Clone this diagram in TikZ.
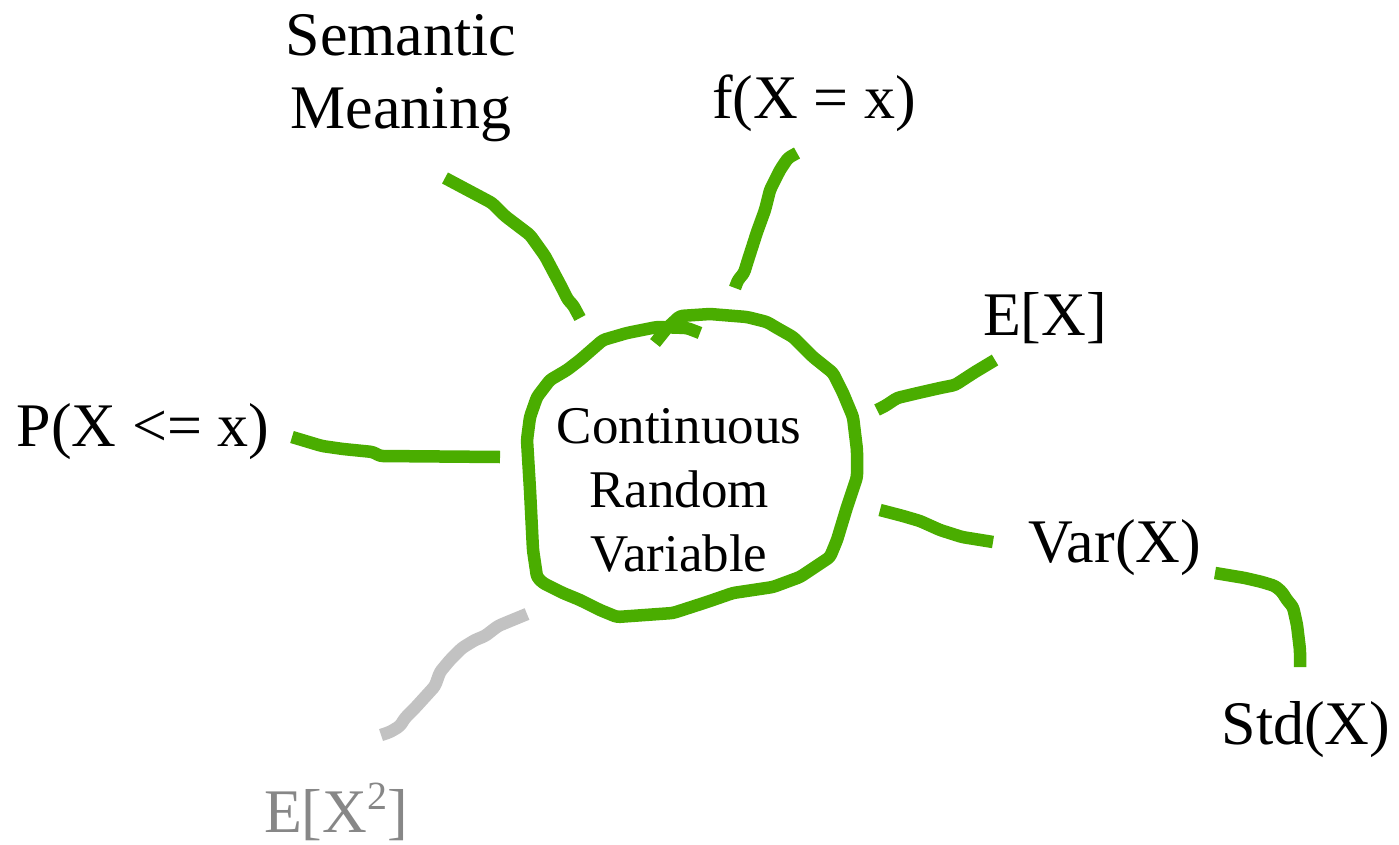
\documentclass[tikz,border=0pt]{standalone}
\usepackage{fontspec}
\setmainfont{Liberation Serif}
\usepackage{xcolor}
\usetikzlibrary{positioning,calc}
\definecolor{penGreen}{HTML}{4AAD00}
\definecolor{penGray}{HTML}{C2C2C2}
\definecolor{txtGray}{HTML}{878787}
\begin{document}
\begin{tikzpicture}[x=1pt,y=-1pt,
  lbl/.style={align=center,inner sep=0pt,font=\fontsize{62}{73}\selectfont},
  inner/.style={align=center,inner sep=0pt,font=\fontsize{53}{64}\selectfont},
  pen/.style={draw=penGreen,line width=12.5pt,line join=round,rounded corners=3pt},
  pengray/.style={pen,draw=penGray}]
\useasboundingbox (0,0) rectangle (1399,845);
% labels
\node (crv) [inner] at (679,490) {Continuous\\Random\\Variable};
\node (sem) [lbl] at (401,78) {Semantic\\Meaning};
\node (dens) [lbl] at (814,103) {f(X = x)};
\node (mean) [lbl] at (1045,318) {E[X]};
\node (cdf) [lbl] at (143,432) {P(X <= x)};
\node (var) [lbl] at (1115,548) {Var(X)};
\node (std) [lbl] at (1306,730) {Std(X)};
\node (msq) [lbl,text=txtGray] at (336,812) {E[X\raisebox{0.36em}{\fontsize{40}{40}\selectfont 2}]};
% stroke ends
\coordinate (sem-a) at (445,178);  \coordinate (sem-b) at (580,318);
\coordinate (dens-a) at (797,153); \coordinate (dens-b) at (735,288);
\coordinate (mean-a) at (995,360); \coordinate (mean-b) at (877,410);
\coordinate (cdf-a) at (292,437);  \coordinate (cdf-b) at (500,457);
\coordinate (var-a) at (880,510);  \coordinate (var-b) at (993,542);
\coordinate (std-a) at (1215,573); \coordinate (std-b) at (1300,667);
\coordinate (msq-a) at (527,614);  \coordinate (msq-b) at (381,735);
% the loop round the centre
\draw[pen] (655,343) -- (667,328) -- (680,316) -- (710,314) -- (747,317) -- (767,322)
  -- (777,328) -- (793,337) -- (813,357) -- (833,373) -- (843,393) -- (853,417)
  -- (857,450) -- (857,477) -- (847,507) -- (837,540) -- (830,557) -- (800,577)
  -- (773,587) -- (733,593) -- (707,602) -- (673,613) -- (617,617) -- (600,610)
  -- (580,600) -- (563,593) -- (543,583) -- (537,577) -- (533,550) -- (530,490)
  -- (527,440) -- (530,417) -- (537,397) -- (550,380) -- (567,370) -- (580,360)
  -- (603,340) -- (627,333) -- (657,327) -- (687,328) -- (700,333);
% connectors
\draw[pen] (sem-a) -- (492,203) -- (505,216) -- (530,235) -- (545,256) -- (562,288)
  -- (568,300) -- (573,305) -- (sem-b);
\draw[pen] (dens-a) -- (788,158) -- (780,170) -- (770,190) -- (765,210) -- (757,232)
  -- (748,260) -- (744,273) -- (738,280) -- (dens-b);
\draw[pen] (mean-a) -- (975,372) -- (955,385) -- (940,388) -- (918,393) -- (897,398)
  -- (885,406) -- (mean-b);
\draw[pen] (cdf-a) -- (322,446) -- (343,449) -- (373,452) -- (380,456) -- (cdf-b);
\draw[pen] (var-a) -- (903,516) -- (920,521) -- (940,530) -- (962,537) -- (var-b);
\draw[pen] (std-a) -- (1245,578) -- (1262,582) -- (1275,586) -- (1282,592)
  -- (1287,600) -- (1293,607) -- (1297,625) -- (1300,650) -- (std-b);
\draw[pengray] (msq-a) -- (510,621) -- (498,626) -- (485,636) -- (475,640) -- (462,648)
  -- (450,660) -- (440,672) -- (435,686) -- (425,697) -- (415,708) -- (405,718)
  -- (400,726) -- (390,732) -- (msq-b);
\end{tikzpicture}
\end{document}
